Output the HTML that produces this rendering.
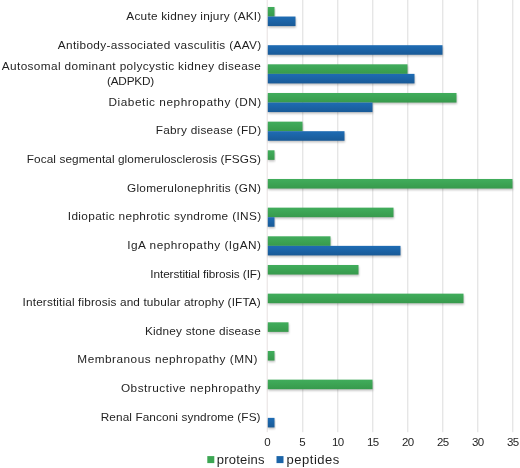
<!DOCTYPE html>
<html><head><meta charset="utf-8"><title>chart</title>
<style>
html,body{margin:0;padding:0;background:#fff;}
body{width:520px;height:468px;position:relative;overflow:hidden;font-family:"Liberation Sans",sans-serif;color:#1f1f1f;}
svg{position:absolute;left:0;top:0;}
#tx{position:absolute;left:0;top:0;width:520px;height:468px;will-change:transform;}
.l{position:absolute;white-space:nowrap;font-size:11.8px;line-height:14px;height:14px;}
.t{position:absolute;font-size:11.5px;line-height:12px;width:30px;text-align:center;top:435.9px;}
.lg{position:absolute;font-size:13px;line-height:14px;top:453px;white-space:nowrap;}
</style></head><body>

<svg width="520" height="468" viewBox="0 0 520 468">
<defs><linearGradient id="g" x1="0" y1="0" x2="0" y2="1"><stop offset="0" stop-color="#41ad5c"/><stop offset="1" stop-color="#379a4c"/></linearGradient><linearGradient id="b" x1="0" y1="0" x2="0" y2="1"><stop offset="0" stop-color="#1e6cb4"/><stop offset="1" stop-color="#195a97"/></linearGradient><filter id="s" x="-5%" y="-30%" width="110%" height="180%"><feGaussianBlur stdDeviation="1.1"/></filter></defs>
<rect x="266.70" y="0.0" width="1" height="432.2" fill="#e6e0e0"/>
<rect x="302.30" y="0.0" width="1" height="432.2" fill="#dcdcdc"/>
<rect x="337.30" y="0.0" width="1" height="432.2" fill="#dcdcdc"/>
<rect x="372.30" y="0.0" width="1" height="432.2" fill="#dcdcdc"/>
<rect x="407.30" y="0.0" width="1" height="432.2" fill="#dcdcdc"/>
<rect x="442.30" y="0.0" width="1" height="432.2" fill="#dcdcdc"/>
<rect x="477.30" y="0.0" width="1" height="432.2" fill="#dcdcdc"/>
<rect x="512.30" y="0.0" width="1" height="432.2" fill="#dcdcdc"/>
<rect x="268.30" y="8.48" width="6.70" height="9.56" fill="#000" opacity="0.25" filter="url(#s)"/>
<rect x="268.30" y="18.03" width="27.70" height="9.56" fill="#000" opacity="0.25" filter="url(#s)"/>
<rect x="268.30" y="46.70" width="174.70" height="9.56" fill="#000" opacity="0.25" filter="url(#s)"/>
<rect x="268.30" y="65.81" width="139.70" height="9.56" fill="#000" opacity="0.25" filter="url(#s)"/>
<rect x="268.30" y="75.37" width="146.70" height="9.56" fill="#000" opacity="0.25" filter="url(#s)"/>
<rect x="268.30" y="94.48" width="188.70" height="9.56" fill="#000" opacity="0.25" filter="url(#s)"/>
<rect x="268.30" y="104.03" width="104.70" height="9.56" fill="#000" opacity="0.25" filter="url(#s)"/>
<rect x="268.30" y="123.14" width="34.70" height="9.56" fill="#000" opacity="0.25" filter="url(#s)"/>
<rect x="268.30" y="132.70" width="76.70" height="9.56" fill="#000" opacity="0.25" filter="url(#s)"/>
<rect x="268.30" y="151.81" width="6.70" height="9.56" fill="#000" opacity="0.25" filter="url(#s)"/>
<rect x="268.30" y="180.48" width="244.70" height="9.56" fill="#000" opacity="0.25" filter="url(#s)"/>
<rect x="268.30" y="209.14" width="125.70" height="9.56" fill="#000" opacity="0.25" filter="url(#s)"/>
<rect x="268.30" y="218.70" width="6.70" height="9.56" fill="#000" opacity="0.25" filter="url(#s)"/>
<rect x="268.30" y="237.81" width="62.70" height="9.56" fill="#000" opacity="0.25" filter="url(#s)"/>
<rect x="268.30" y="247.37" width="132.70" height="9.56" fill="#000" opacity="0.25" filter="url(#s)"/>
<rect x="268.30" y="266.48" width="90.70" height="9.56" fill="#000" opacity="0.25" filter="url(#s)"/>
<rect x="268.30" y="295.14" width="195.70" height="9.56" fill="#000" opacity="0.25" filter="url(#s)"/>
<rect x="268.30" y="323.81" width="20.70" height="9.56" fill="#000" opacity="0.25" filter="url(#s)"/>
<rect x="268.30" y="352.48" width="6.70" height="9.56" fill="#000" opacity="0.25" filter="url(#s)"/>
<rect x="268.30" y="381.14" width="104.70" height="9.56" fill="#000" opacity="0.25" filter="url(#s)"/>
<rect x="268.30" y="419.37" width="6.70" height="9.56" fill="#000" opacity="0.25" filter="url(#s)"/>
<rect x="267.80" y="6.98" width="6.70" height="9.56" fill="url(#g)"/>
<rect x="267.80" y="16.53" width="27.70" height="9.56" fill="url(#b)"/>
<rect x="267.80" y="45.20" width="174.70" height="9.56" fill="url(#b)"/>
<rect x="267.80" y="64.31" width="139.70" height="9.56" fill="url(#g)"/>
<rect x="267.80" y="73.87" width="146.70" height="9.56" fill="url(#b)"/>
<rect x="267.80" y="92.98" width="188.70" height="9.56" fill="url(#g)"/>
<rect x="267.80" y="102.53" width="104.70" height="9.56" fill="url(#b)"/>
<rect x="267.80" y="121.64" width="34.70" height="9.56" fill="url(#g)"/>
<rect x="267.80" y="131.20" width="76.70" height="9.56" fill="url(#b)"/>
<rect x="267.80" y="150.31" width="6.70" height="9.56" fill="url(#g)"/>
<rect x="267.80" y="178.98" width="244.70" height="9.56" fill="url(#g)"/>
<rect x="267.80" y="207.64" width="125.70" height="9.56" fill="url(#g)"/>
<rect x="267.80" y="217.20" width="6.70" height="9.56" fill="url(#b)"/>
<rect x="267.80" y="236.31" width="62.70" height="9.56" fill="url(#g)"/>
<rect x="267.80" y="245.87" width="132.70" height="9.56" fill="url(#b)"/>
<rect x="267.80" y="264.98" width="90.70" height="9.56" fill="url(#g)"/>
<rect x="267.80" y="293.64" width="195.70" height="9.56" fill="url(#g)"/>
<rect x="267.80" y="322.31" width="20.70" height="9.56" fill="url(#g)"/>
<rect x="267.80" y="350.98" width="6.70" height="9.56" fill="url(#g)"/>
<rect x="267.80" y="379.64" width="104.70" height="9.56" fill="url(#g)"/>
<rect x="267.80" y="417.87" width="6.70" height="9.56" fill="url(#b)"/>
<rect x="207.3" y="456.1" width="7" height="7" fill="#3ca653"/>
<rect x="276.5" y="456.1" width="7" height="7" fill="#1b64a8"/>
</svg>
<div id="tx">
<div class="l" id="l0" style="left:126.34px;top:9.30px;letter-spacing:0.242px;">Acute kidney injury (AKI)</div>
<div class="l" id="l1" style="left:57.83px;top:38.30px;letter-spacing:0.347px;">Antibody-associated vasculitis (AAV)</div>
<div class="l" id="l2" style="left:1.83px;top:59.30px;letter-spacing:0.368px;">Autosomal dominant polycystic kidney disease</div>
<div class="l" id="l2b" style="left:106.96px;top:74.30px;letter-spacing:-0.210px;">(ADPKD)</div>
<div class="l" id="l3" style="left:108.54px;top:95.30px;letter-spacing:0.545px;">Diabetic nephropathy (DN)</div>
<div class="l" id="l4" style="left:155.70px;top:123.30px;letter-spacing:0.261px;">Fabry disease (FD)</div>
<div class="l" id="l5" style="left:26.77px;top:152.30px;letter-spacing:0.085px;">Focal segmental glomerulosclerosis (FSGS)</div>
<div class="l" id="l6" style="left:126.93px;top:181.30px;letter-spacing:0.283px;">Glomerulonephritis (GN)</div>
<div class="l" id="l7" style="left:67.83px;top:209.30px;letter-spacing:0.353px;">Idiopatic nephrotic syndrome (INS)</div>
<div class="l" id="l8" style="left:127.27px;top:238.30px;letter-spacing:0.497px;">IgA nephropathy (IgAN)</div>
<div class="l" id="l9" style="left:150.27px;top:267.30px;letter-spacing:-0.084px;">Interstitial fibrosis (IF)</div>
<div class="l" id="l10" style="left:22.61px;top:295.30px;letter-spacing:0.134px;">Interstitial fibrosis and tubular atrophy (IFTA)</div>
<div class="l" id="l11" style="left:144.91px;top:324.30px;letter-spacing:0.196px;">Kidney stone disease</div>
<div class="l" id="l12" style="left:77.32px;top:352.30px;letter-spacing:0.498px;">Membranous nephropathy (MN)</div>
<div class="l" id="l13" style="left:120.89px;top:381.30px;letter-spacing:0.514px;">Obstructive nephropathy</div>
<div class="l" id="l14" style="left:100.74px;top:410.30px;letter-spacing:0.094px;">Renal Fanconi syndrome (FS)</div>
<div class="t" style="left:252.5px;">0</div>
<div class="t" style="left:287.5px;">5</div>
<div class="t" style="left:322.8px;letter-spacing:-0.5px;">10</div>
<div class="t" style="left:357.8px;letter-spacing:-0.5px;">15</div>
<div class="t" style="left:392.8px;letter-spacing:-0.5px;">20</div>
<div class="t" style="left:427.8px;letter-spacing:-0.5px;">25</div>
<div class="t" style="left:462.8px;letter-spacing:-0.5px;">30</div>
<div class="t" style="left:497.8px;letter-spacing:-0.5px;">35</div>
<div class="lg" id="lg1" style="left:216.82px;letter-spacing:0.201px;">proteins</div>
<div class="lg" id="lg2" style="left:286.48px;letter-spacing:0.536px;">peptides</div>
</div></body></html>
